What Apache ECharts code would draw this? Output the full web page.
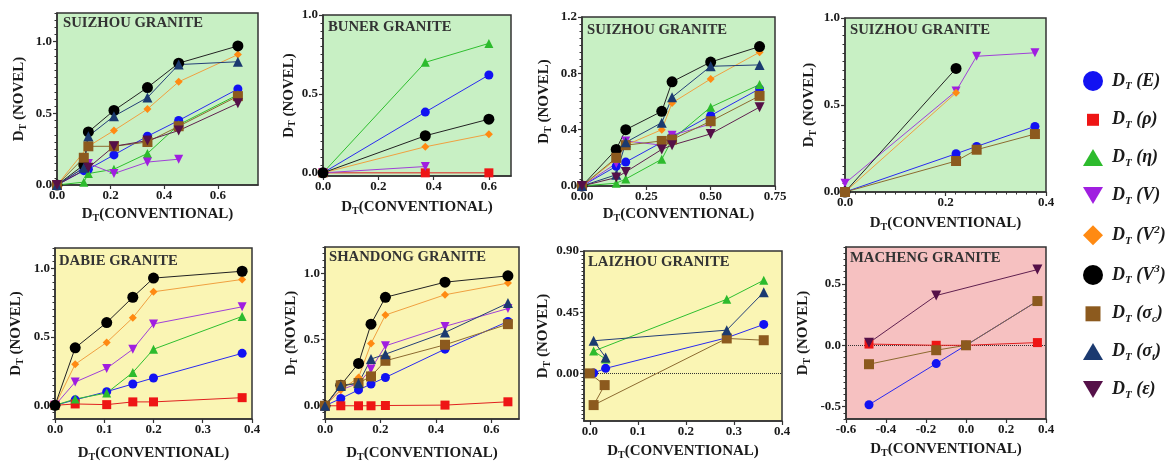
<!DOCTYPE html>
<html><head><meta charset="utf-8">
<script src="https://cdn.jsdelivr.net/npm/echarts@6/dist/echarts.min.js"></script>
<style>html,body{margin:0;padding:0;background:#fff}#c{width:1170px;height:467px}</style>
</head><body><div id="c"></div>
<script>
// ===================== DATA =====================
// Panel 1: Suizhou granite (A)
const suiA_E   = [[0,0],[0.10,0.10],[0.117,0.11],[0.2125,0.21],[0.3375,0.34],[0.454,0.45],[0.675,0.67]];
const suiA_eta = [[0,0],[0.10,0.02],[0.117,0.08],[0.2125,0.11],[0.3375,0.22],[0.454,0.42],[0.675,0.63]];
const suiA_V   = [[0,0],[0.10,0.12],[0.117,0.15],[0.2125,0.08],[0.3375,0.16],[0.454,0.18]];
const suiA_V2  = [[0,0],[0.117,0.27],[0.2125,0.38],[0.3375,0.53],[0.454,0.72],[0.675,0.91]];
const suiA_V3  = [[0,0],[0.10,0.14],[0.117,0.37],[0.2125,0.52],[0.3375,0.68],[0.454,0.85],[0.675,0.97]];
const suiA_sc  = [[0,0],[0.10,0.19],[0.117,0.27],[0.2125,0.27],[0.3375,0.30],[0.454,0.41],[0.675,0.62]];
const suiA_st  = [[0,0],[0.10,0.12],[0.117,0.34],[0.2125,0.48],[0.3375,0.61],[0.454,0.84],[0.675,0.86]];
const suiA_eps = [[0,0],[0.117,0.12],[0.2125,0.27],[0.3375,0.31],[0.454,0.38],[0.675,0.57]];
// Panel 2: Buner granite
const bun_E   = [[0,0],[0.37,0.385],[0.60,0.62]];
const bun_rho = [[0,0],[0.37,0.0],[0.60,0.0]];
const bun_eta = [[0,0],[0.37,0.70],[0.60,0.82]];
const bun_V   = [[0,0],[0.37,0.04]];
const bun_V2  = [[0,0],[0.37,0.165],[0.60,0.245]];
const bun_V3  = [[0,0],[0.37,0.235],[0.60,0.34]];
// Panel 3: Suizhou granite (B)
const suiB_E   = [[0,0],[0.133,0.14],[0.17,0.17],[0.31,0.31],[0.35,0.35],[0.50,0.50],[0.69,0.69]];
const suiB_eta = [[0,0],[0.133,0.02],[0.17,0.05],[0.31,0.19],[0.35,0.33],[0.50,0.56],[0.69,0.72]];
const suiB_V   = [[0,0],[0.133,0.16],[0.17,0.32],[0.31,0.29],[0.35,0.36],[0.50,0.44]];
const suiB_V2  = [[0,0],[0.133,0.19],[0.17,0.29],[0.31,0.40],[0.35,0.59],[0.50,0.76],[0.69,0.95]];
const suiB_V3  = [[0,0],[0.133,0.26],[0.17,0.40],[0.31,0.53],[0.35,0.74],[0.50,0.88],[0.69,0.99]];
const suiB_sc  = [[0,0],[0.133,0.20],[0.17,0.29],[0.31,0.32],[0.35,0.33],[0.50,0.46],[0.69,0.64]];
const suiB_st  = [[0,0],[0.133,0.08],[0.17,0.31],[0.31,0.45],[0.35,0.63],[0.50,0.85],[0.69,0.86]];
const suiB_eps = [[0,0],[0.133,0.06],[0.17,0.10],[0.31,0.26],[0.35,0.29],[0.50,0.37],[0.69,0.56]];
// Panel 4: Suizhou granite (C)
const suiC_E  = [[0,0],[0.221,0.22],[0.262,0.262],[0.378,0.377]];
const suiC_V  = [[0,0.05],[0.221,0.58],[0.262,0.78],[0.378,0.80]];
const suiC_V2 = [[0,0],[0.221,0.57]];
const suiC_V3 = [[0,0],[0.221,0.71]];
const suiC_sc = [[0,0],[0.221,0.178],[0.262,0.243],[0.378,0.333]];
// Panel 5: Dabie granite
const dab_E   = [[0,0],[0.041,0.04],[0.105,0.10],[0.158,0.156],[0.20,0.20],[0.38,0.38]];
const dab_rho = [[0,0],[0.041,0.01],[0.105,0.005],[0.158,0.025],[0.20,0.025],[0.38,0.056]];
const dab_eta = [[0,0],[0.041,0.046],[0.105,0.09],[0.158,0.24],[0.20,0.41],[0.38,0.65]];
const dab_V   = [[0,0],[0.041,0.17],[0.105,0.27],[0.158,0.41],[0.20,0.595],[0.38,0.72]];
const dab_V2  = [[0,0],[0.041,0.30],[0.105,0.46],[0.158,0.64],[0.20,0.83],[0.38,0.92]];
const dab_V3  = [[0,0],[0.041,0.42],[0.105,0.605],[0.158,0.79],[0.20,0.93],[0.38,0.98]];
// Panel 6: Shandong granite
const sha_E   = [[0,0],[0.057,0.055],[0.121,0.12],[0.166,0.164],[0.218,0.214],[0.433,0.428],[0.66,0.637]];
const sha_rho = [[0,0],[0.057,0.0],[0.121,0.0],[0.166,0.0],[0.218,0.002],[0.433,0.005],[0.66,0.03]];
const sha_V   = [[0,0],[0.057,0.12],[0.121,0.17],[0.166,0.277],[0.218,0.453],[0.433,0.60],[0.66,0.735]];
const sha_V2  = [[0,0],[0.057,0.119],[0.121,0.214],[0.166,0.47],[0.218,0.686],[0.433,0.839],[0.66,0.927]];
const sha_V3  = [[0,0],[0.057,0.156],[0.121,0.32],[0.166,0.617],[0.218,0.82],[0.433,0.934],[0.66,0.982]];
const sha_sc  = [[0,0],[0.057,0.155],[0.121,0.172],[0.166,0.222],[0.218,0.34],[0.433,0.461],[0.66,0.617]];
const sha_st  = [[0,0],[0.057,0.15],[0.121,0.17],[0.166,0.353],[0.218,0.39],[0.433,0.554],[0.66,0.776]];
// Panel 7: Laizhou granite
const lai_E   = [[0,0],[0.004,0.0],[0.008,0.003],[0.033,0.037],[0.285,0.262],[0.362,0.36]];
const lai_eta = [[0.033,0.105],[0.008,0.164],[0.285,0.545],[0.362,0.685]];
const lai_sc  = [[0,0],[0.031,-0.086],[0.008,-0.233],[0.285,0.257],[0.362,0.244]];
const lai_st  = [[0.033,0.117],[0.008,0.24],[0.285,0.318],[0.362,0.597]];
// Panel 8: Macheng granite
const mac_E   = [[-0.485,-0.484],[-0.149,-0.149],[0,0],[0.357,0.36]];
const mac_rho = [[-0.485,0.01],[-0.149,0.0],[0,0],[0.357,0.022]];
const mac_sc  = [[-0.485,-0.154],[-0.149,-0.04],[0,0],[0.357,0.36]];
const mac_eps = [[-0.485,0.02],[-0.149,0.405],[0.357,0.616]];

// Tick labels (values) for each panel
const ticksX1 = [0,0.2,0.4,0.6],      ticksY1 = [0,0.5,1.0];
const ticksX2 = [0,0.2,0.4,0.6],      ticksY2 = [0,0.5,1.0];
const ticksX3 = [0,0.25,0.5,0.75],    ticksY3 = [0,0.4,0.8,1.2];
const ticksX4 = [0,0.2,0.4],          ticksY4 = [0,0.5,1.0];
const ticksX5 = [0,0.1,0.2,0.3,0.4],  ticksY5 = [0,0.5,1.0];
const ticksX6 = [0,0.2,0.4,0.6],      ticksY6 = [0,0.5,1.0];
const ticksX7 = [0,0.1,0.2,0.3,0.4],  ticksY7 = [0,0.45,0.9];
const ticksX8 = [-0.6,-0.4,-0.2,0,0.2,0.4], ticksY8 = [-0.5,0,0.5];

// Legend series keys
const seriesKeys = ['E','ρ','η','V','V2','V3','σc','σt','ε'];

// ===================== STYLE / LAYOUT =====================
const FONT = "'Liberation Serif','Times New Roman','DejaVu Serif',serif";
const INV = 'path://M0,0L20,0L10,17Z';
const STY = {
  'E':  {color:'#1212f2', line:'#2a2af0', symbol:'circle',  size:9},
  'ρ':  {color:'#ee1515', line:'#e02020', symbol:'rect',    size:9},
  'η':  {color:'#2dbb2d', line:'#2fbf2f', symbol:'triangle',size:9},
  'V':  {color:'#a01ee0', line:'#a040d8', symbol:INV,       size:9},
  'V2': {color:'#ff8a12', line:'#f0a040', symbol:'diamond', size:8},
  'V3': {color:'#000000', line:'#222222', symbol:'circle',  size:11},
  'σc': {color:'#8c5a1e', line:'#8c6a30', symbol:'rect',    size:10},
  'σt': {color:'#1b3a70', line:'#243f78', symbol:'triangle',size:10},
  'ε':  {color:'#551048', line:'#60204f', symbol:INV,       size:10}
};
const GREEN='#c8f0c4', YELLOW='#faf5b4', PINK='#f6c1c1';

const panels = [
  {box:[57,13,201,172], bg:GREEN, title:'SUIZHOU GRANITE', tpos:[63,16],
   x:{min:0,max:0.75,ticks:ticksX1,dec:1,gap:20}, y:{min:0,max:1.2,ticks:ticksY1,dec:1,gap:29,minor:0.05},
   s:{'E':suiA_E,'η':suiA_eta,'V':suiA_V,'V2':suiA_V2,'V3':suiA_V3,'σc':suiA_sc,'σt':suiA_st,'ε':suiA_eps}},
  {box:[323,15,188,161], bg:GREEN, title:'BUNER GRANITE', tpos:[328,20],
   x:{min:0,max:0.68,ticks:ticksX2,dec:1,gap:22}, y:{min:-0.02,max:1.0,ticks:ticksY2,dec:1,gap:23,minor:0.05},
   s:{'E':bun_E,'ρ':bun_rho,'η':bun_eta,'V':bun_V,'V2':bun_V2,'V3':bun_V3}},
  {box:[582,17,193,169], bg:GREEN, title:'SUIZHOU GRANITE', tpos:[587,23],
   x:{min:0,max:0.75,ticks:ticksX3,dec:2,gap:19}, y:{min:0,max:1.2,ticks:ticksY3,dec:1,gap:29,minor:0.05},
   s:{'E':suiB_E,'η':suiB_eta,'V':suiB_V,'V2':suiB_V2,'V3':suiB_V3,'σc':suiB_sc,'σt':suiB_st,'ε':suiB_eps}},
  {box:[845,18,201,174], bg:GREEN, title:'SUIZHOU GRANITE', tpos:[850,23],
   x:{min:0,max:0.4,ticks:ticksX4,dec:1,gap:22,minor:0.02}, y:{min:0,max:1.0,ticks:ticksY4,dec:1,gap:27,minor:0.05},
   s:{'E':suiC_E,'V':suiC_V,'V2':suiC_V2,'V3':suiC_V3,'σc':suiC_sc}},
  {box:[55,248,197,171], bg:YELLOW, title:'DABIE GRANITE', tpos:[59,254],
   x:{min:0,max:0.4,ticks:ticksX5,dec:1,gap:25}, y:{min:-0.1,max:1.15,ticks:ticksY5,dec:1,gap:30,minor:0.05},
   s:{'E':dab_E,'ρ':dab_rho,'η':dab_eta,'V':dab_V,'V2':dab_V2,'V3':dab_V3}},
  {box:[325,247,194,172], bg:YELLOW, title:'SHANDONG GRANITE', tpos:[329,250],
   x:{min:0,max:0.7,ticks:ticksX6,dec:1,gap:25}, y:{min:-0.1,max:1.2,ticks:ticksY6,dec:1,gap:25,minor:0.05},
   s:{'E':sha_E,'ρ':sha_rho,'V':sha_V,'V2':sha_V2,'V3':sha_V3,'σc':sha_sc,'σt':sha_st}},
  {box:[584,251,198,170], bg:YELLOW, title:'LAIZHOU GRANITE', tpos:[588,255], zero:true,
   x:{min:-0.012,max:0.4,ticks:ticksX7,dec:1,gap:21}, y:{min:-0.35,max:0.9,ticks:ticksY7,dec:2,gap:32,minor:0.03},
   s:{'E':lai_E,'η':lai_eta,'σc':lai_sc,'σt':lai_st}},
  {box:[846,247,200,172], bg:PINK, title:'MACHENG GRANITE', tpos:[850,251], zero:true,
   x:{min:-0.6,max:0.4,ticks:ticksX8,dec:1,gap:21}, y:{min:-0.6,max:0.8,ticks:ticksY8,dec:1,gap:34,minor:0.05},
   s:{'E':mac_E,'ρ':mac_rho,'σc':mac_sc,'ε':mac_eps}}
];

const NAME_RICH = {
  d:{fontFamily:FONT,fontWeight:'bold',fontSize:15,color:'#1a1a1a',lineHeight:18},
  s:{fontFamily:FONT,fontWeight:'bold',fontSize:10,color:'#1a1a1a',lineHeight:10,verticalAlign:'bottom'}
};
const AX = '#333';

function fmt(v, dec){ const r = Math.abs(v) < 1e-9 ? 0 : v; return r.toFixed(dec); }

function mainAxis(isX, gi, a){
  return {
    type:'value', gridIndex:gi, min:a.min, max:a.max, position:isX?'bottom':'left',
    name: isX ? '{d|D}{s|T}{d|(CONVENTIONAL)}' : '{d|D}{s|T}{d| (NOVEL)}',
    nameLocation:'middle', nameGap:a.gap, nameTextStyle:{rich:NAME_RICH},
    axisLine:{show:true,onZero:false,lineStyle:{color:AX,width:1.5}},
    axisTick:{show:true,inside:false,length:4,customValues:a.ticks,lineStyle:{color:AX,width:1.2}},
    axisLabel:{show:true,margin:isX?4:5,customValues:a.ticks,formatter:(v)=>fmt(v,a.dec),
      fontFamily:FONT,fontWeight:'bold',fontSize:13,color:'#1a1a1a'},
    splitLine:{show:false}, minorTick:{show:false}
  };
}
function minorAxis(isX, gi, a){
  const vals = [];
  const start = Math.ceil(a.min / a.minor - 1e-9);
  const end = Math.floor(a.max / a.minor + 1e-9);
  for (let k = start; k <= end; k++) {
    const v = +(k * a.minor).toFixed(6);
    if (!a.ticks.some(t => Math.abs(t - v) < 1e-6)) vals.push(v);
  }
  return {
    type:'value', gridIndex:gi, min:a.min, max:a.max, position:isX?'bottom':'left',
    axisLine:{show:false,onZero:false}, axisLabel:{show:false}, splitLine:{show:false},
    axisTick:{show:true,inside:false,length:2.5,customValues:vals,lineStyle:{color:AX,width:1}}
  };
}

const option = {
  animation:false, backgroundColor:'#ffffff',
  grid:[], xAxis:[], yAxis:[], series:[], title:[],
  legend:{
    orient:'vertical', left:1078, top:66, itemWidth:20, itemHeight:20, itemGap:17.8,
    selectedMode:false,
    data:[
      {name:'E', icon:'circle'},
      {name:'ρ', icon:'path://M0,0M20,20M4,4L16,4L16,16L4,16Z'},
      {name:'η', icon:'path://M0,17L10,0L20,17Z'},
      {name:'V', icon:'path://M0,0L20,0L10,17Z'},
      {name:'V2', icon:'diamond'},
      {name:'V3', icon:'circle'},
      {name:'σc', icon:'path://M0,0M20,20M2.5,2.5L17.5,2.5L17.5,17.5L2.5,17.5Z'},
      {name:'σt', icon:'path://M0,17L10,0L20,17Z'},
      {name:'ε', icon:'path://M0,0L20,0L10,17Z'}
    ],
    formatter:(n)=>{
      const m = {'E':'{d| (E)}','ρ':'{d| (ρ)}','η':'{d| (η)}','V':'{d| (V)}',
        'V2':'{d| (V}{p|2}{d|)}','V3':'{d| (V}{p|3}{d|)}',
        'σc':'{d| (σ}{s|c}{d|)}','σt':'{d| (σ}{s|t}{d|)}','ε':'{d| (ε)}'};
      return '{d0|D}{s|T}' + m[n];
    },
    textStyle:{rich:{
      d0:{fontFamily:FONT,fontWeight:'bold',fontStyle:'italic',fontSize:18,color:'#1a1a1a',lineHeight:22,padding:[0,0,0,4]},
      d:{fontFamily:FONT,fontWeight:'bold',fontStyle:'italic',fontSize:18,color:'#1a1a1a',lineHeight:22},
      s:{fontFamily:FONT,fontWeight:'bold',fontStyle:'italic',fontSize:11,color:'#1a1a1a',lineHeight:11,verticalAlign:'bottom'},
      p:{fontFamily:FONT,fontWeight:'bold',fontStyle:'italic',fontSize:11,color:'#1a1a1a',lineHeight:11,verticalAlign:'top'}
    }}
  }
};

panels.forEach((p, gi) => {
  option.grid.push({left:p.box[0], top:p.box[1], width:p.box[2], height:p.box[3],
    show:true, backgroundColor:p.bg, borderColor:AX, borderWidth:1.5});
  const xi = option.xAxis.length;
  option.xAxis.push(mainAxis(true, gi, p.x));
  if (p.x.minor) option.xAxis.push(minorAxis(true, gi, p.x));
  const yi = option.yAxis.length;
  option.yAxis.push(mainAxis(false, gi, p.y));
  if (p.y.minor) option.yAxis.push(minorAxis(false, gi, p.y));
  option.title.push({text:p.title, left:p.tpos[0], top:p.tpos[1], padding:0,
    textStyle:{fontFamily:FONT,fontWeight:'bold',fontSize:14.7,color:'#333333'}});
  let first = true;
  seriesKeys.forEach(k => {
    const d = p.s[k];
    if (!d) return;
    const st = STY[k];
    const ser = {
      type:'line', name:k, xAxisIndex:xi, yAxisIndex:yi, data:d, clip:false,
      symbol:st.symbol, symbolSize:st.size, showSymbol:true,
      itemStyle:{color:st.color, borderWidth:0},
      lineStyle:{color:st.line, width:1}, emphasis:{disabled:true}, z:3
    };
    if (p.zero && first) {
      ser.markLine = {silent:true, symbol:'none', label:{show:false},
        lineStyle:{type:'dotted', color:'#333', width:1}, data:[{yAxis:0}], z:1};
      first = false;
    }
    option.series.push(ser);
  });
});

const chart = echarts.init(document.getElementById('c'), null, {renderer:'canvas'});
chart.setOption(option);
</script></body></html>
